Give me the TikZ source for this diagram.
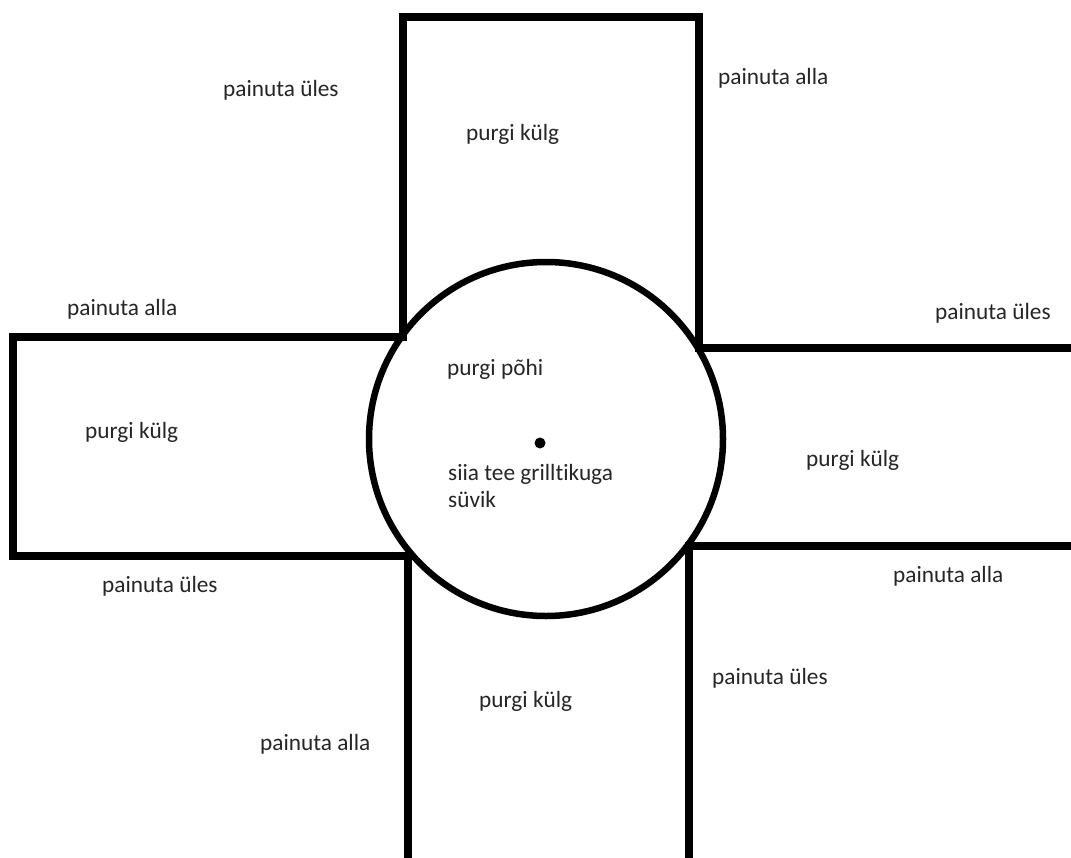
\documentclass[tikz,border=0pt]{standalone}
\usepackage{fontspec}
\setmainfont[Ligatures=NoCommon]{Carlito}
\begin{document}
\begin{tikzpicture}[x=1pt,y=-1pt,
  edge/.style={line width=7.5pt, line join=miter, black},
  lbl/.style={anchor=base west, inner sep=0pt, text=black!85, font=\fontsize{23.3}{27}\selectfont}]
\useasboundingbox (0,0) rectangle (1071,857);
\clip (0,0) rectangle (1071,857);
\fill[white] (0,0) rectangle (1071,857);
% corner coordinates
\coordinate (bl0) at (408,870);
\coordinate (bl1) at (408,556);
\coordinate (l1) at (13,556);
\coordinate (l2) at (13,337);
\coordinate (t0) at (403,337);
\coordinate (t1) at (403,17);
\coordinate (t2) at (699,17);
\coordinate (t3) at (699,348);
\coordinate (r1) at (1085,348);
\coordinate (r2) at (1085,546);
\coordinate (br1) at (689,546);
\coordinate (br0) at (689,870);
% sides of the box
\draw[edge] (bl0) -- (bl1) -- (l1) -- (l2) -- (t0) -- (t1) -- (t2) -- (t3) -- (r1);
\draw[edge] (r2) -- (br1) -- (br0);
% base
\node[circle, draw, line width=6.5pt, minimum size=354pt, inner sep=0pt] (base) at (546,439) {};
\node[circle, fill=black, inner sep=0pt, minimum size=11pt] (hole) at (540,443) {};
% labels
\node[lbl] (tl) at (223,96) {painuta üles};
\node[lbl] (tr) at (718,84) {painuta alla};
\node[lbl] (lt) at (67,315) {painuta alla};
\node[lbl] (rt) at (935,319) {painuta üles};
\node[lbl] (lb) at (102,592) {painuta üles};
\node[lbl] (rb) at (893,582) {painuta alla};
\node[lbl] (br) at (712,684) {painuta üles};
\node[lbl] (bl) at (260,750) {painuta alla};
\node[lbl] (stop) at (466,140) {purgi külg};
\node[lbl] (sleft) at (85,438) {purgi külg};
\node[lbl] (sright) at (806,466) {purgi külg};
\node[lbl] (sbot) at (479,707) {purgi külg};
\node[lbl] (pohi) at (447,375) {purgi põhi};
\node[lbl] (siia) at (448,480) {siia tee grilltikuga};
\node[lbl] (suvik) at (448,507) {süvik};
\end{tikzpicture}
\end{document}
